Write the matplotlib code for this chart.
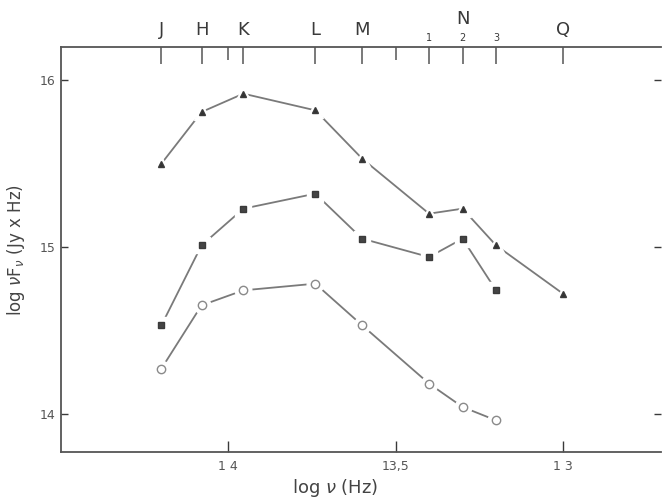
import matplotlib.pyplot as plt
import matplotlib.transforms as mtransforms

# band positions on the log nu axis
bands = ['J', 'H', 'K', 'L', 'M', '1', '2', '3', 'Q']
log_nu = [14.2, 14.08, 13.955, 13.74, 13.6, 13.4, 13.3, 13.2, 13.0]

# log nu F_nu for the three sources
tri_vals = [15.50, 15.81, 15.92, 15.82, 15.53, 15.20, 15.23, 15.01, 14.72]
sq_vals = [14.53, 15.01, 15.23, 15.32, 15.05, 14.94, 15.05, 14.74]
circ_vals = [14.27, 14.65, 14.74, 14.78, 14.53, 14.18, 14.04, 13.96]

x_ticks = [14.0, 13.5, 13.0]
x_ticklabels = ['1 4', '13,5', '1 3']
y_ticks = [14, 15, 16]

ink = '#3a3a3a'
line_c = '#7a7a7a'
font = ['Liberation Sans Narrow', 'DejaVu Sans']
plt.rcParams['font.family'] = font

fig = plt.figure(figsize=(6.62, 5.0), dpi=100)
ax = fig.add_axes([61 / 662, 48 / 500, 600 / 662, 405 / 500])


def series(x, y, marker, size, face):
    # line first, then a white halo so the segments stop short of the symbols
    ax.plot(x, y, '-', color=line_c, lw=1.3, zorder=1)
    ax.plot(x, y, marker, ms=size + 6, color='white', mec='white', zorder=2)
    ax.plot(x, y, marker, ms=size, mfc=face, mec=ink if face != 'white' else '#8a8a8a',
            mew=1.0, zorder=3)


series(log_nu, tri_vals, '^', 5, '#333333')
series(log_nu[:len(sq_vals)], sq_vals, 's', 5, '#444444')
series(log_nu[:len(circ_vals)], circ_vals, 'o', 6, 'white')

ax.set_xlim(14.5, 12.707)
ax.set_ylim(13.77, 16.2)

ax.set_xticks(x_ticks)
ax.set_xticklabels(x_ticklabels, fontsize=9, color='#555555')
ax.set_yticks(y_ticks)
ax.set_yticklabels([str(v) for v in y_ticks], fontsize=9, color='#555555')
ax.tick_params(axis='x', direction='in', length=8, width=1, color=ink, pad=6,
               top=False)
ax.tick_params(axis='y', direction='in', length=5, width=1, color=ink, pad=4,
               right=True)

for side in ['left', 'bottom', 'top']:
    ax.spines[side].set_color('#555555')
    ax.spines[side].set_linewidth(1.3)
ax.spines['right'].set_visible(False)

# band ticks hanging from the top edge
top = ax.twiny()
top.set_xlim(ax.get_xlim())
top.set_xticks(log_nu, minor=False)
top.set_xticklabels([])
top.set_xticks([14.0, 13.5], minor=True)
top.tick_params(axis='x', which='major', direction='in', length=12, width=1.1,
                color='#555555')
top.tick_params(axis='x', which='minor', direction='in', length=9, width=1.1,
                color='#555555')
for s in top.spines.values():
    s.set_visible(False)

trans = mtransforms.blended_transform_factory(ax.transData, fig.transFigure)
for name, x in zip(bands, log_nu):
    if name.isdigit():
        ax.text(x, 1 - 38 / 500, name, transform=trans, ha='center', va='center',
                fontsize=7, color=ink)
    else:
        ax.text(x, 1 - 30 / 500, name, transform=trans, ha='center', va='center',
                fontsize=13, color=ink)
ax.text(log_nu[6], 1 - 19 / 500, 'N', transform=trans, ha='center', va='center',
        fontsize=13, color=ink)

fig.text(335 / 662, 1 - 488 / 500, r'log $\nu$ (Hz)', ha='center', va='center',
         fontsize=13, color='#444444')
fig.text(16 / 662, 0.5, r'log $\nu$F$_\nu$ (Jy x Hz)', rotation=90,
         ha='center', va='center', fontsize=12, color='#444444')

fig.savefig('out.png', dpi=100, facecolor='white')
